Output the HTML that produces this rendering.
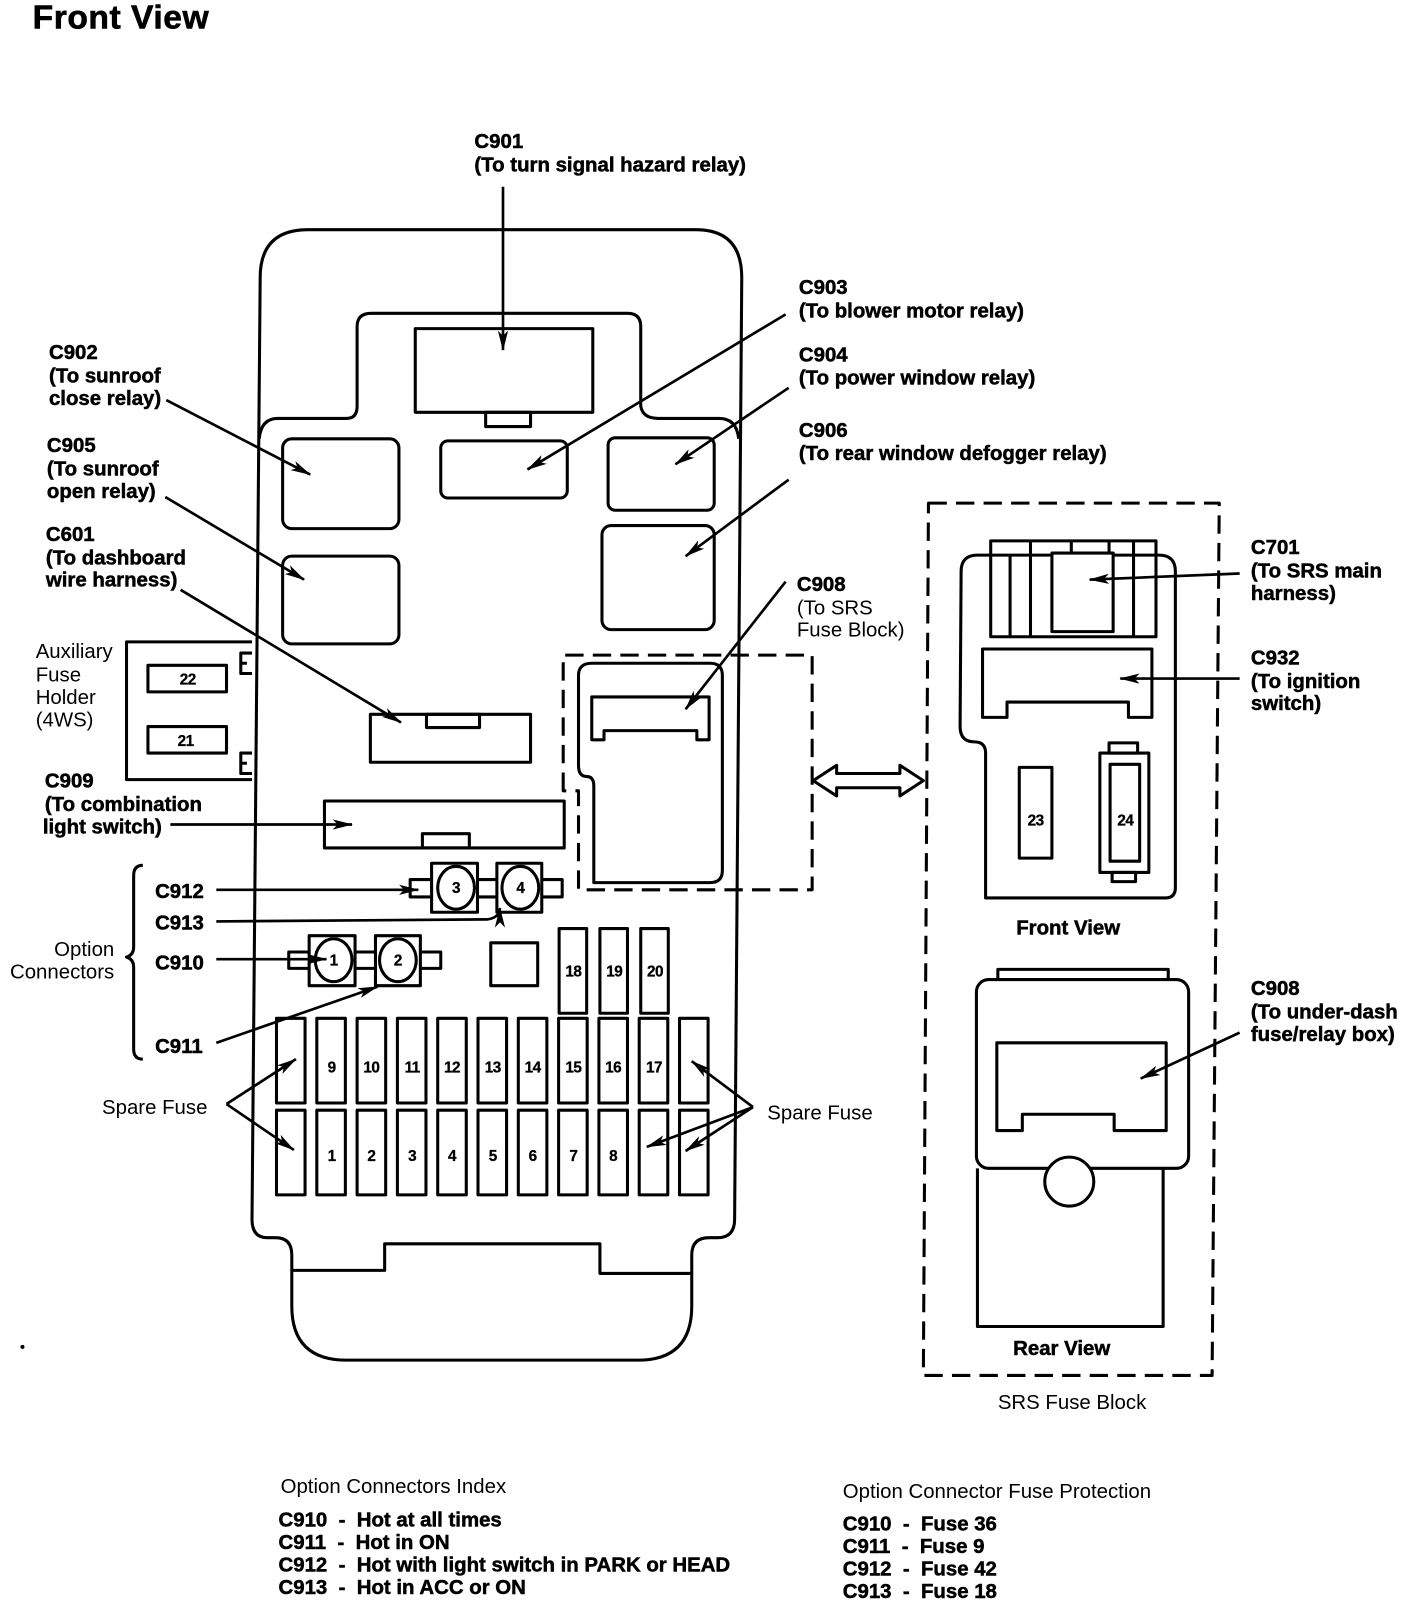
<!DOCTYPE html>
<html><head><meta charset="utf-8"><style>
html,body{margin:0;padding:0;background:#fff;}
svg{display:block;}
text{font-family:"Liberation Sans",Arial,sans-serif;fill:#000;}
.b{font-weight:bold;font-size:20px;letter-spacing:0px;stroke:#000;stroke-width:0.5px;}
.r{font-size:20px;letter-spacing:0px;}
.n{font-weight:bold;font-size:15px;text-anchor:middle;letter-spacing:-0.5px;stroke:#000;stroke-width:0.3px;}
</style></head><body>
<svg width="1408" height="1600" viewBox="0 0 1380 1568" xmlns="http://www.w3.org/2000/svg">
<defs>
<marker id="a" viewBox="0 0 20 10" refX="19" refY="5" markerWidth="20" markerHeight="10" markerUnits="userSpaceOnUse" orient="auto">
<path d="M0,0 L20,5 L0,10 L5,5 Z" fill="#000"/></marker>
</defs>
<g fill="none" stroke="#000" stroke-width="3" stroke-linejoin="round">
<path d="M286 1245 L286 1230 Q286 1213 270 1213 L262 1213 Q247 1213 247 1195 L255 272 Q255 225 302 225 L682 225 Q727 225 727 272 L720 1195 Q720 1213 703 1213 L695 1213 Q678 1213 678 1230 L678 1280 Q678 1333 625 1333 L340 1333 Q286 1333 286 1280 Z"/>
<path d="M286 1245 L377 1245 L377 1219 L588 1219 L588 1248 L678 1248"/>
<path d="M254 430 Q256 410 272 410 L340 410 Q350 410 350 398 L350 320 Q350 307 364 307 L615 307 Q628 307 628 320 L628 398 Q630 410 645 410 L705 410 Q722 410 724 430"/>
<rect x="407" y="322" width="174" height="82"/>
<rect x="476" y="404" width="44" height="14"/>
<rect x="277" y="430" width="114" height="88" rx="9"/>
<rect x="432" y="432" width="124" height="56" rx="7"/>
<rect x="596" y="429" width="104" height="71" rx="7"/>
<rect x="277" y="545" width="114" height="86" rx="9"/>
<rect x="590" y="515" width="110" height="102" rx="9"/>
<rect x="363" y="700" width="157" height="47"/>
<rect x="418" y="700" width="52" height="13"/>
<rect x="318" y="785" width="235" height="46"/>
<rect x="414" y="817" width="46" height="14"/>
<path d="M552 775 L552 642 L796 642 L796 872 L567 872 L567 775 Z" stroke-dasharray="18 9"/>
<path d="M582 865 L582 770 Q582 761 575 761 Q567 761 567 750 L567 662 Q567 650 580 650 L696 650 Q708 650 708 662 L708 853 Q708 865 696 865 Z"/>
<path d="M580 683 L695 683 L695 725 L683 725 L683 716 L592 716 L592 725 L580 725 Z"/>
<path d="M247 629 L124 629 L124 764 L247 764"/>
<rect x="145" y="652" width="77" height="26"/>
<rect x="145" y="712" width="77" height="26"/>
<path d="M247 640 L236 640 L236 660 L247 660 M236 650 L242 650"/>
<path d="M247 738 L236 738 L236 758 L247 758 M236 748 L242 748"/>
<rect x="402" y="862" width="149" height="17"/>
<rect x="423" y="846" width="45" height="48" fill="#fff"/>
<rect x="487" y="846" width="44" height="48" fill="#fff"/>
<ellipse cx="447" cy="870" rx="18" ry="21" fill="#fff"/>
<ellipse cx="510" cy="870" rx="18" ry="21" fill="#fff"/>
<rect x="283" y="933" width="149" height="16"/>
<rect x="303" y="917" width="45" height="49" fill="#fff"/>
<rect x="368" y="917" width="44" height="49" fill="#fff"/>
<ellipse cx="327" cy="941" rx="18" ry="21" fill="#fff"/>
<ellipse cx="390" cy="941" rx="18" ry="21" fill="#fff"/>
<rect x="481" y="924" width="46" height="42"/>
<rect x="548" y="910" width="27" height="83"/>
<rect x="588" y="910" width="27" height="83"/>
<rect x="628" y="910" width="27" height="83"/>
<g id="row">
<rect x="271" y="998" width="28" height="83"/><rect x="310.5" y="998" width="28" height="83"/><rect x="350" y="998" width="28" height="83"/><rect x="389.5" y="998" width="28" height="83"/><rect x="429" y="998" width="28" height="83"/><rect x="468.5" y="998" width="28" height="83"/><rect x="508" y="998" width="28" height="83"/><rect x="547.5" y="998" width="28" height="83"/><rect x="587" y="998" width="28" height="83"/><rect x="626.5" y="998" width="28" height="83"/><rect x="666" y="998" width="28" height="83"/>
</g>
<use href="#row" y="90"/>
<path d="M140 848 Q131 848 131 858 L131 928 Q131 936 124 938 Q131 940 131 948 L131 1028 Q131 1038 140 1038"/>
<path d="M910 493 L1195 493 L1188 1348 L905 1348 Z" stroke-dasharray="18 9"/>
<path d="M966 880 L966 738 Q966 727 955 727 Q941 727 941 712 L942 560 Q942 544 958 544 L1136 544 Q1152 544 1152 560 L1152 870 Q1152 880 1142 880 Z"/>
<rect x="971" y="530" width="162" height="94" fill="#fff"/>
<path d="M971 544 L1133 544"/>
<path d="M990 544 L990 624 M1010 530 L1010 624 M1111 530 L1111 624 M1050 530 L1050 544 M1087 530 L1087 544"/>
<rect x="1031" y="542" width="60" height="77" fill="#fff"/>
<path d="M963 636 L1129 636 L1129 703 L1106 703 L1106 688 L987 688 L987 703 L963 703 Z"/>
<rect x="999" y="752" width="32" height="89"/>
<rect x="1087" y="728" width="28" height="10"/>
<rect x="1090" y="855" width="23" height="9"/>
<rect x="1078" y="738" width="48" height="117"/>
<rect x="1088" y="749" width="29" height="95"/>
<path d="M958 1145 L958 1300 L1140 1300 L1140 1145"/>
<path d="M978 960 L978 950 L1145 950 L1145 960"/>
<rect x="957" y="960" width="208" height="185" rx="12" fill="#fff"/>
<path d="M977 1022 L1143 1022 L1143 1108 L1092 1108 L1092 1092 L1002 1092 L1002 1108 L977 1108 Z"/>
<circle cx="1048" cy="1158" r="24" fill="#fff"/>
<path d="M797 765 L820 750 L820 758 L882 758 L882 750 L905 765 L882 780 L882 772 L820 772 L820 780 Z" fill="#fff"/>
</g>
<g stroke="#000" stroke-width="2.6" fill="none" marker-end="url(#a)">
<line x1="493" y1="183" x2="493" y2="343"/>
<line x1="163" y1="392" x2="304" y2="465"/>
<line x1="162" y1="487" x2="298" y2="568"/>
<line x1="177" y1="578" x2="393" y2="708"/>
<line x1="770" y1="308" x2="517" y2="460"/>
<line x1="773" y1="380" x2="662" y2="455"/>
<line x1="773" y1="470" x2="672" y2="545"/>
<line x1="770" y1="570" x2="672" y2="695"/>
<line x1="167" y1="808" x2="345" y2="808"/>
<line x1="212" y1="872" x2="410" y2="872"/>
<path d="M212 903 L478 901 Q490 899 490 890"/>
<line x1="212" y1="940" x2="320" y2="940"/>
<line x1="212" y1="1022" x2="370" y2="967"/>
<line x1="222" y1="1082" x2="290" y2="1038"/>
<line x1="222" y1="1082" x2="288" y2="1127"/>
<line x1="738" y1="1085" x2="678" y2="1040"/>
<line x1="738" y1="1085" x2="634" y2="1124"/>
<line x1="738" y1="1085" x2="672" y2="1128"/>
<line x1="1215" y1="562" x2="1068" y2="568"/>
<line x1="1215" y1="665" x2="1098" y2="665"/>
<line x1="1215" y1="1012" x2="1118" y2="1057"/>
</g>
<text x="32" y="28" style="font-weight:bold;font-size:33px;letter-spacing:0.5px;stroke:#000;stroke-width:0.6px">Front View</text>
<text class="b" x="465" y="145">C901</text>
<text class="b" x="465" y="168">(To turn signal hazard relay)</text>
<text class="b" x="48" y="352">C902</text><text class="b" x="48" y="375">(To sunroof</text><text class="b" x="48" y="397">close relay)</text>
<text class="b" x="46" y="443">C905</text><text class="b" x="46" y="466">(To sunroof</text><text class="b" x="46" y="488">open relay)</text>
<text class="b" x="45" y="530">C601</text><text class="b" x="45" y="553">(To dashboard</text><text class="b" x="45" y="575">wire harness)</text>
<text class="r" x="35" y="645">Auxiliary</text><text class="r" x="35" y="668">Fuse</text><text class="r" x="35" y="690">Holder</text><text class="r" x="35" y="712">(4WS)</text>
<text class="b" x="44" y="772">C909</text><text class="b" x="44" y="795">(To combination</text><text class="b" x="42" y="817">light switch)</text>
<text class="b" x="783" y="288">C903</text><text class="b" x="783" y="311">(To blower motor relay)</text>
<text class="b" x="783" y="354">C904</text><text class="b" x="783" y="377">(To power window relay)</text>
<text class="b" x="783" y="428">C906</text><text class="b" x="783" y="451">(To rear window defogger relay)</text>
<text class="b" x="781" y="579">C908</text><text class="r" x="781" y="602">(To SRS</text><text class="r" x="781" y="624">Fuse Block)</text>
<text class="b" x="152" y="880">C912</text><text class="b" x="152" y="911">C913</text><text class="b" x="152" y="950">C910</text><text class="b" x="152" y="1032">C911</text>
<text class="r" x="112" y="937" text-anchor="end">Option</text><text class="r" x="112" y="959" text-anchor="end">Connectors</text>
<text class="r" x="100" y="1092">Spare Fuse</text>
<text class="r" x="752" y="1097">Spare Fuse</text>
<text class="n" x="184" y="671">22</text><text class="n" x="182" y="731">21</text>
<text class="n" x="447" y="875">3</text><text class="n" x="510" y="875">4</text>
<text class="n" x="327" y="946">1</text><text class="n" x="390" y="946">2</text>
<text class="n" x="562" y="957">18</text><text class="n" x="602" y="957">19</text><text class="n" x="642" y="957">20</text>
<text class="n" x="325" y="1051">9</text><text class="n" x="364" y="1051">10</text><text class="n" x="404" y="1051">11</text><text class="n" x="443" y="1051">12</text><text class="n" x="483" y="1051">13</text><text class="n" x="522" y="1051">14</text><text class="n" x="562" y="1051">15</text><text class="n" x="601" y="1051">16</text><text class="n" x="641" y="1051">17</text>
<text class="n" x="325" y="1138">1</text><text class="n" x="364" y="1138">2</text><text class="n" x="404" y="1138">3</text><text class="n" x="443" y="1138">4</text><text class="n" x="483" y="1138">5</text><text class="n" x="522" y="1138">6</text><text class="n" x="562" y="1138">7</text><text class="n" x="601" y="1138">8</text>
<text class="n" x="1015" y="809">23</text><text class="n" x="1103" y="809">24</text>
<text class="b" x="1226" y="543">C701</text><text class="b" x="1226" y="566">(To SRS main</text><text class="b" x="1226" y="588">harness)</text>
<text class="b" x="1226" y="651">C932</text><text class="b" x="1226" y="674">(To ignition</text><text class="b" x="1226" y="696">switch)</text>
<text class="b" x="1226" y="975">C908</text><text class="b" x="1226" y="998">(To under-dash</text><text class="b" x="1226" y="1020">fuse/relay box)</text>
<text class="b" x="996" y="916">Front View</text>
<text class="b" x="993" y="1328">Rear View</text>
<text class="r" x="978" y="1381">SRS Fuse Block</text>
<text class="r" x="275" y="1463">Option Connectors Index</text>
<text class="b" x="273" y="1496" xml:space="preserve">C910  -  Hot at all times</text>
<text class="b" x="273" y="1518" xml:space="preserve">C911  -  Hot in ON</text>
<text class="b" x="273" y="1540" xml:space="preserve">C912  -  Hot with light switch in PARK or HEAD</text>
<text class="b" x="273" y="1562" xml:space="preserve">C913  -  Hot in ACC or ON</text>
<text class="r" x="826" y="1468">Option Connector Fuse Protection</text>
<text class="b" x="826" y="1500" xml:space="preserve">C910  -  Fuse 36</text>
<text class="b" x="826" y="1522" xml:space="preserve">C911  -  Fuse 9</text>
<text class="b" x="826" y="1544" xml:space="preserve">C912  -  Fuse 42</text>
<text class="b" x="826" y="1566" xml:space="preserve">C913  -  Fuse 18</text>
<circle cx="22" cy="1320" r="2" fill="#000"/>
</svg>
</body></html>
